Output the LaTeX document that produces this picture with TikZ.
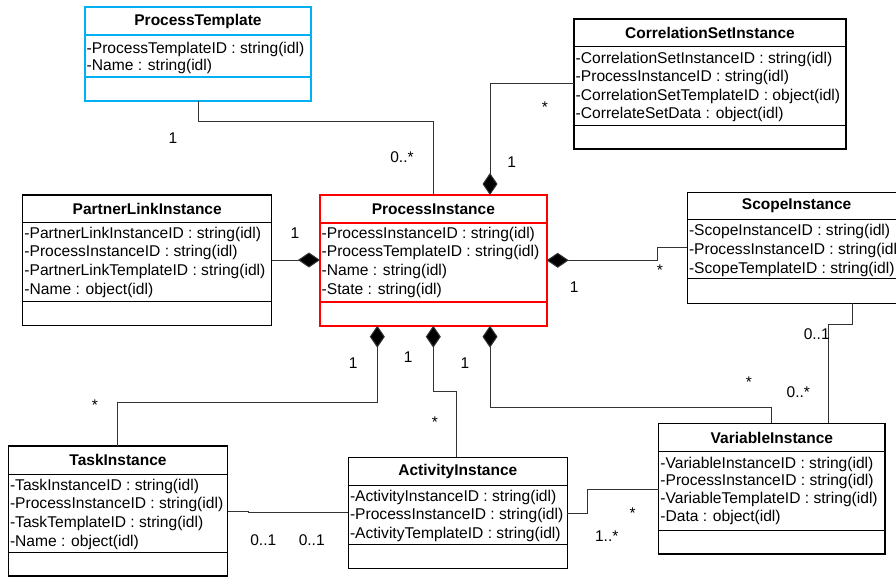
\documentclass[tikz,border=0pt]{standalone}
\usepackage{fontspec}
\setmainfont{Liberation Sans}
\usetikzlibrary{arrows.meta}
\definecolor{ptblue}{HTML}{00B0F0}
\definecolor{pired}{HTML}{FF0000}
\definecolor{conncol}{HTML}{333333}
\tikzset{
  box/.style={draw=black, line width=1.3pt, anchor=north west, inner sep=0pt, outer sep=0pt},
  sepline/.style={line width=1.3pt},
  bluebox/.style={draw=ptblue, line width=2.2pt},
  redbox/.style={draw=pired, line width=2pt},
  ctitle/.style={font=\fontsize{15.5}{18}\selectfont\bfseries, inner sep=0pt},
  attr/.style={font=\fontsize{15.6}{18}\selectfont, anchor=base west, inner sep=0pt},
  conn/.style={draw=conncol, line width=1pt},
  comp/.style={conn, {Diamond[length=22pt,width=15pt,fill=black]}-},
  mult/.style={font=\fontsize{15.5}{18}\selectfont, inner sep=0pt},
}
% #1 style, #2 name, #3 x1, #4 y1, #5 x2, #6 y2, #7 header sep, #8 attr sep, #9 title
\newcommand{\umlclass}[9][]{%
  \node[box,#1,minimum width={(#5-#3)*1pt},minimum height={(#6-#4)*1pt}] (#2) at (#3,#4) {};
  \draw[sepline,#1] (#2.west |- 0,#7) -- (#2.east |- 0,#7);
  \draw[sepline,#1] (#2.west |- 0,#8) -- (#2.east |- 0,#8);
  \node[ctitle] (#2-title) at ({(#3+#5)/2},{(#4+#7)/2}) {#9};
}
% #1 name, #2 x, #3 first baseline, #4 dy, #5 list
\newcommand{\umlattrs}[5]{%
  \foreach \t [count=\i from 0] in {#5} {
    \node[attr] (#1-a\i) at (#2,{#3+\i*#4}) {\t};
  }
}
\begin{document}
\begin{tikzpicture}[x=1pt,y=-1pt]
\useasboundingbox (0,0) rectangle (896,577);
\clip (0,0) rectangle (896,577);
\fill[white] (0,0) rectangle (896,577);

% classes
\umlclass[bluebox]{pt}{85}{7}{311}{101}{35}{77.3}{ProcessTemplate}
\umlattrs{pt}{86.5}{53.3}{17}{-ProcessTemplateID : string(idl),-Name : string(idl)}

\umlclass{csi}{574}{19}{846}{149}{46.7}{125.7}{CorrelationSetInstance}
\umlattrs{csi}{575.5}{63.3}{18.4}{-CorrelationSetInstanceID : string(idl),-ProcessInstanceID : string(idl),-CorrelationSetTemplateID : object(idl),-CorrelateSetData : object(idl)}

\umlclass[redbox]{pi}{320}{195}{546.7}{325.7}{222.7}{301.7}{ProcessInstance}
\umlattrs{pi}{321.5}{238.3}{18.7}{-ProcessInstanceID : string(idl),-ProcessTemplateID : string(idl),-Name : string(idl),-State : string(idl)}

\umlclass{pli}{22.7}{195}{271.7}{325.7}{222.7}{301.7}{PartnerLinkInstance}
\umlattrs{pli}{24.2}{238.3}{18.7}{-PartnerLinkInstanceID : string(idl),-ProcessInstanceID : string(idl),-PartnerLinkTemplateID : string(idl),-Name : object(idl)}

\umlclass{si}{687.3}{192.3}{906}{303.3}{219.3}{278.7}{ScopeInstance}
\umlattrs{si}{688.8}{235.7}{18.8}{-ScopeInstanceID : string(idl),-ProcessInstanceID : string(idl),-ScopeTemplateID : string(idl)}

\umlclass{ti}{8.3}{446}{227.7}{576}{474.3}{552.3}{TaskInstance}
\umlattrs{ti}{9.8}{490.3}{18.6}{-TaskInstanceID : string(idl),-ProcessInstanceID : string(idl),-TaskTemplateID : string(idl),-Name : object(idl)}

\umlclass{ai}{348.3}{457.3}{567.3}{568.7}{485.7}{544.3}{ActivityInstance}
\umlattrs{ai}{349.8}{501}{18.7}{-ActivityInstanceID : string(idl),-ProcessInstanceID : string(idl),-ActivityTemplateID : string(idl)}

\umlclass{vi}{658.7}{423.3}{885}{554}{451.7}{530.7}{VariableInstance}
\umlattrs{vi}{660.2}{468.3}{17.6}{-VariableInstanceID : string(idl),-ProcessInstanceID : string(idl),-VariableTemplateID : string(idl),-Data : object(idl)}

% connectors
\draw[conn] (pt.south -| 198,0) -- (198,121.7) -| (pi.north -| 433.3,0);
\node[mult] (m-pt1) at (173,138) {1};
\node[mult] (m-pt2) at (402,157) {0..*};

\draw[comp] (pi.north -| 490,0) |- (csi.west |- 0,84);
\node[mult] (m-csi1) at (545,107) {*};
\node[mult] (m-csi2) at (511.7,162) {1};

\draw[comp] (pi.west |- 0,260) -- (pli.east |- 0,260);
\node[mult] (m-pli1) at (295,233) {1};

\draw[comp] (pi.east |- 0,260.3) -- (657.3,260.3) |- (si.west |- 0,248);
\node[mult] (m-si1) at (660,270) {*};
\node[mult] (m-si2) at (574.3,286.7) {1};

\draw[conn] (si.south -| 852.3,0) -- (852.3,324.3) -| (vi.north -| 828.3,0);
\node[mult] (m-sv1) at (816.7,334) {0..1};
\node[mult] (m-sv2) at (798.3,391.7) {0..*};

\draw[comp] (pi.south -| 490,0) |- (771.7,407.7) -- (vi.north -| 771.7,0);
\node[mult] (m-pv1) at (465,363.3) {1};
\node[mult] (m-pv2) at (749,382.3) {*};

\draw[comp] (pi.south -| 377.3,0) |- (117.7,402.3) -- (ti.north -| 117.7,0);
\node[mult] (m-pt3) at (353.3,363.3) {1};
\node[mult] (m-pt4) at (95,405) {*};

\draw[comp] (pi.south -| 433.3,0) |- (456.7,391) -- (ai.north -| 456.7,0);
\node[mult] (m-pa1) at (408.3,356.7) {1};
\node[mult] (m-pa2) at (435,421.7) {*};

\draw[conn] (ti.east |- 0,511) -- (248.3,511) -- (248.3,512.7) -- (ai.west |- 0,512.7);
\node[mult] (m-ta1) at (263.3,540) {0..1};
\node[mult] (m-ta2) at (311.7,540) {0..1};

\draw[conn] (ai.east |- 0,513.3) -| (587.7,489) -- (vi.west |- 0,489);
\node[mult] (m-av1) at (632.7,513.3) {*};
\node[mult] (m-av2) at (606.7,535.7) {1..*};
\end{tikzpicture}
\end{document}
